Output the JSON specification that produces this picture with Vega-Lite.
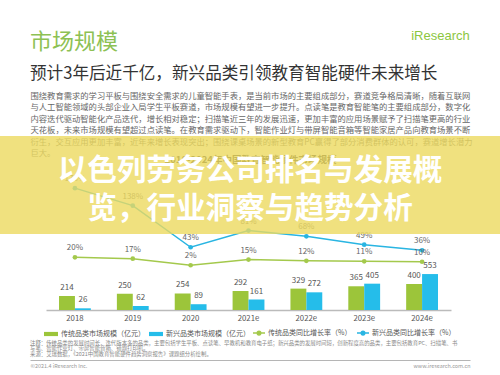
{
  "$schema": "https://vega.github.io/schema/vega-lite/v6.json",
  "autosize": {"type": "pad"},
  "padding": {"left": 0, "top": 29, "right": 0, "bottom": 0},
  "background": "white",
  "config": {"view": {"stroke": null}, "font": "Noto Sans CJK SC"},
  "title": {
    "text": "市场规模",
    "subtitle": "预计3年后近千亿，新兴品类引领教育智能硬件未来增长",
    "anchor": "start",
    "frame": "group",
    "dx": 30,
    "offset": -55,
    "fontSize": 22,
    "fontWeight": "normal",
    "color": "#8dc153",
    "subtitleFontSize": 16.6,
    "subtitleColor": "#333333",
    "subtitleFont": "Noto Sans CJK SC",
    "subtitlePadding": 12
  },
  "datasets": {
    "bars": [
      {"year": "2018", "series": "传统品类市场规模（亿元）", "value": 214},
      {"year": "2018", "series": "新兴品类市场规模（亿元）", "value": 26},
      {"year": "2019", "series": "传统品类市场规模（亿元）", "value": 250},
      {"year": "2019", "series": "新兴品类市场规模（亿元）", "value": 62},
      {"year": "2020", "series": "传统品类市场规模（亿元）", "value": 254},
      {"year": "2020", "series": "新兴品类市场规模（亿元）", "value": 89},
      {"year": "2021e", "series": "传统品类市场规模（亿元）", "value": 292},
      {"year": "2021e", "series": "新兴品类市场规模（亿元）", "value": 161},
      {"year": "2022e", "series": "传统品类市场规模（亿元）", "value": 329},
      {"year": "2022e", "series": "新兴品类市场规模（亿元）", "value": 272},
      {"year": "2023e", "series": "传统品类市场规模（亿元）", "value": 365},
      {"year": "2023e", "series": "新兴品类市场规模（亿元）", "value": 405},
      {"year": "2024e", "series": "传统品类市场规模（亿元）", "value": 400},
      {"year": "2024e", "series": "新兴品类市场规模（亿元）", "value": 553}
    ],
    "rates": [
      {"year": "2018", "series": "传统品类同比增长率（%）", "rate": 0.20},
      {"year": "2019", "series": "传统品类同比增长率（%）", "rate": 0.17},
      {"year": "2020", "series": "传统品类同比增长率（%）", "rate": 0.02},
      {"year": "2021e", "series": "传统品类同比增长率（%）", "rate": 0.15},
      {"year": "2022e", "series": "传统品类同比增长率（%）", "rate": 0.12},
      {"year": "2023e", "series": "传统品类同比增长率（%）", "rate": 0.11},
      {"year": "2024e", "series": "传统品类同比增长率（%）", "rate": 0.10},
      {"year": "2018", "series": "新兴品类同比增长率（%）", "rate": 1.78},
      {"year": "2019", "series": "新兴品类同比增长率（%）", "rate": 1.38},
      {"year": "2020", "series": "新兴品类同比增长率（%）", "rate": 0.43},
      {"year": "2021e", "series": "新兴品类同比增长率（%）", "rate": 0.81},
      {"year": "2022e", "series": "新兴品类同比增长率（%）", "rate": 0.68},
      {"year": "2023e", "series": "新兴品类同比增长率（%）", "rate": 0.49},
      {"year": "2024e", "series": "新兴品类同比增长率（%）", "rate": 0.36}
    ]
  },
  "spacing": 2,
  "vconcat": [
    {
      "width": 500,
      "height": 174,
      "title": {
        "text": ["以色列劳务公司排名与发展概", "览，行业洞察与趋势分析"],
        "anchor": "middle",
        "frame": "group",
        "fontSize": 29.6,
        "fontWeight": "bold",
        "color": "white",
        "lineHeight": 38,
        "offset": -196
      },
      "layer": [
        {
          "data": {"name": "bars"},
          "encoding": {
            "x": {
              "field": "year", "type": "nominal", "sort": null,
              "scale": {"range": [46, 451], "paddingInner": 0.45, "paddingOuter": 0.225},
              "axis": {
                "title": null, "orient": "bottom", "labelAngle": 0, "labelFontSize": 7.8,
                "labelColor": "#555555", "labelPadding": 4, "ticks": false,
                "domainColor": "#bbbbbb", "domainWidth": 1.5, "grid": false
              }
            },
            "y": {
              "field": "value", "type": "quantitative",
              "scale": {"domain": [0, 2677]},
              "axis": {
                "orient": "left", "labels": false, "ticks": false, "domain": false, "grid": false,
                "title": [
                  "围绕教育需求的学习平板与围绕安全需求的儿童智能手表，是当前市场的主要组成部分，赛道竞争格局清晰，随着互联网",
                  "与人工智能领域的头部企业入局学生平板赛道，市场规模有望进一步提升。点读笔是教育智能笔的主要组成部分，数字化",
                  "内容迭代驱动智能化产品迭代，增长相对稳定；扫描笔近三年的发展迅速，更加丰富的应用场景赋予了扫描笔更高的行业",
                  "天花板，未来市场规模有望超过点读笔。在教育需求驱动下，智能作业灯与带屏智能音箱等智能家居产品向教育场景不断",
                  "衍生，交互应用更加丰富，近年来增长表现突出；围绕课桌场景的新型教育PC赢得了部分消费群体的认可，赛道增长潜力",
                  "巨大。"
                ],
                "titleAngle": 0, "titleAlign": "left", "titleBaseline": "top",
                "titleX": 30, "titleY": -45, "titleFontSize": 8.3, "titleFontWeight": "normal",
                "titleColor": "#666666", "titleLineHeight": 11.5, "titleLimit": 1000
              }
            },
            "xOffset": {"field": "series", "sort": null, "scale": {"paddingInner": 0, "paddingOuter": 0}}
          },
          "layer": [
            {
              "mark": {"type": "bar"},
              "encoding": {
                "color": {
                  "field": "series", "type": "nominal", "sort": null,
                  "scale": {"domain": ["传统品类市场规模（亿元）", "新兴品类市场规模（亿元）"], "range": ["#9cc53a", "#25bdea"]},
                  "legend": {
                    "orient": "none", "legendX": 43, "legendY": 190, "direction": "horizontal",
                    "title": null, "symbolType": "M-1,-0.3H1V0.3H-1Z", "symbolSize": 196,
                    "labelFontSize": 7, "labelColor": "#555555", "columnPadding": 3, "labelOffset": 2
                  }
                }
              }
            },
            {
              "mark": {"type": "text", "baseline": "bottom", "dy": -4, "fontSize": 8, "color": "#555555"},
              "encoding": {"text": {"field": "value", "type": "quantitative"}}
            }
          ]
        },
        {
          "data": {"name": "rates"},
          "encoding": {
            "y": {
              "field": "rate", "type": "quantitative",
              "scale": {"domain": [-1.002, 2.97]},
              "axis": {
                "orient": "right", "labels": false, "ticks": false, "domain": false, "grid": false,
                "title": "2018-2024年中国教育智能硬件市场规模",
                "titleAngle": 0, "titleAlign": "center", "titleBaseline": "middle",
                "titleX": -250, "titleY": 23, "titleFontSize": 9.5, "titleFontWeight": "bold",
                "titleColor": "#333333", "titleLimit": 1000
              }
            }
          },
          "layer": [
            {
              "mark": {"type": "line", "strokeWidth": 1.5},
              "encoding": {
                "x": {
                  "field": "year", "type": "nominal", "sort": null,
                  "scale": {"range": [46, 451], "paddingInner": 0.45, "paddingOuter": 0.225},
                  "axis": {
                    "orient": "top", "labels": false, "ticks": false, "domain": false, "grid": false,
                    "title": "iResearch", "titleX": 440, "titleY": -101, "titleAlign": "center",
                    "titleBaseline": "middle", "titleFontSize": 13, "titleFont": "Liberation Sans",
                    "titleFontWeight": "normal", "titleColor": "#8cc63f", "titleLimit": 1000
                  }
                },
                "color": {
                  "field": "series", "type": "nominal", "sort": null,
                  "scale": {"domain": ["传统品类同比增长率（%）", "新兴品类同比增长率（%）"], "range": ["#a4c94c", "#29b5e2"]},
                  "legend": {
                    "orient": "none", "legendX": 252, "legendY": 190, "direction": "horizontal",
                    "title": null, "symbolType": "M-1,0H1M0.3,0A0.3,0.3,0,1,1,-0.3,0A0.3,0.3,0,1,1,0.3,0",
                    "symbolSize": 144, "symbolStrokeWidth": 1.5,
                    "labelFontSize": 7, "labelColor": "#555555", "columnPadding": 2, "labelOffset": 2
                  }
                }
              }
            },
            {
              "mark": {"type": "point", "filled": true, "size": 22, "opacity": 1},
              "encoding": {
                "x": {
                  "field": "year", "type": "nominal", "sort": null,
                  "scale": {"range": [46, 451], "paddingInner": 0.45, "paddingOuter": 0.225}
                },
                "color": {"field": "series", "type": "nominal", "sort": null}
              }
            },
            {
              "mark": {"type": "text", "baseline": "bottom", "dy": -5, "fontSize": 8, "color": "#666666"},
              "encoding": {
                "x": {
                  "field": "year", "type": "nominal", "sort": null,
                  "scale": {"range": [46, 451], "paddingInner": 0.45, "paddingOuter": 0.225}
                },
                "text": {"field": "rate", "type": "quantitative", "format": ".0%"}
              }
            }
          ]
        },
        {
          "data": {"values": [{"region": "banner"}]},
          "mark": {"type": "rect", "color": "#ecd95f", "opacity": 0.8},
          "encoding": {
            "y": {"datum": 2.97, "type": "quantitative", "scale": {"domain": [-1.002, 2.97]}, "axis": null},
            "y2": {"datum": 0.733}
          }
        }
      ],
      "resolve": {
        "scale": {"x": "independent", "y": "independent", "color": "independent"},
        "axis": {"x": "independent", "y": "independent"},
        "legend": {"color": "independent"}
      }
    },
    {
      "width": 500,
      "height": 1,
      "data": {"values": []},
      "mark": {"type": "point", "opacity": 0},
      "encoding": {
        "x": {
          "datum": 0, "type": "quantitative", "scale": {"domain": [0, 1], "range": [30, 470]},
          "axis": {
            "orient": "bottom", "labels": false, "ticks": false, "grid": false, "domain": true,
            "domainColor": "#b5b5b5", "domainWidth": 1,
            "title": "©2021.4 iResearch Inc.", "titleX": 30, "titleY": 3, "titleAlign": "left",
            "titleBaseline": "top", "titleFontSize": 5.4, "titleColor": "#999999",
            "titleFontWeight": "normal", "titleLimit": 1000
          }
        },
        "y": {
          "datum": 0, "type": "quantitative", "scale": {"domain": [0, 1]},
          "axis": {
            "orient": "left", "labels": false, "ticks": false, "grid": false, "domain": false,
            "title": "www.iresearch.com.cn", "titleAngle": 0, "titleX": 470, "titleY": 4,
            "titleAlign": "right", "titleBaseline": "top", "titleFontSize": 5.4,
            "titleColor": "#999999", "titleFontWeight": "normal", "titleLimit": 1000
          }
        }
      },
      "title": {
        "text": [
          "注释：传统品类的发展时间长，迭代版本多的品类，主要包括学生平板、点读笔、早教机和教育电子纸；新兴品类的发展时间短，创新程度高的品类，主要包括教育PC、扫描笔、书",
          "写笔、智能作业灯、带屏智能音箱、错题打印机。",
          "来源：艾瑞数据，《2021中国教育智能硬件趋势洞察报告》课题组分析绘制。"
        ],
        "anchor": "start",
        "frame": "group",
        "dx": 30,
        "offset": 2,
        "fontSize": 5.4,
        "fontWeight": "normal",
        "color": "#888888",
        "lineHeight": 5.4,
        "limit": 1000
      }
    }
  ]
}
